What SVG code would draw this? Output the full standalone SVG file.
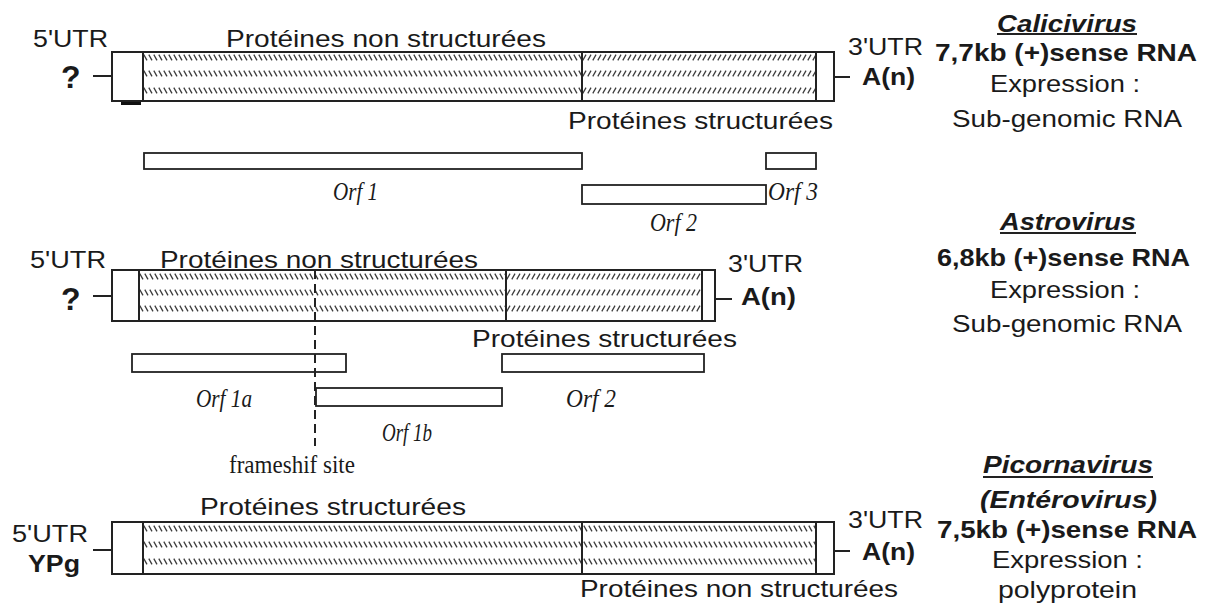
<svg xmlns="http://www.w3.org/2000/svg" width="1206" height="613" viewBox="0 0 1206 613">
<defs>
<pattern id="bs" patternUnits="userSpaceOnUse" width="5" height="7"><line x1="0.8" y1="0.6" x2="4" y2="6.4" stroke="#3a3a3a" stroke-width="1.25"/></pattern>
<pattern id="fs" patternUnits="userSpaceOnUse" width="5" height="7"><line x1="4" y1="0.6" x2="0.8" y2="6.4" stroke="#3a3a3a" stroke-width="1.25"/></pattern>
</defs>
<style>
.t{font-family:"Liberation Sans",Arial,sans-serif;font-size:24px;fill:#1a1a1a}
.b{font-weight:bold}
.bi{font-weight:bold;font-style:italic}
.o{font-family:"Liberation Serif","Times New Roman",serif;font-size:25px;font-style:italic;fill:#1a1a1a}
.s{font-family:"Liberation Serif","Times New Roman",serif;font-size:25px;fill:#1a1a1a}
.box{fill:#fff;stroke:#222;stroke-width:2}
.ln{stroke:#222;stroke-width:2;fill:none}
.orf{fill:#fff;stroke:#222;stroke-width:1.8}
.dash{stroke:#222;stroke-width:2;stroke-dasharray:9 5;fill:none}
</style>
<rect width="1206" height="613" fill="#fff"/>

<g id="calicivirus-genome">
<rect class="box" x="112" y="52" width="722" height="49"/>
<rect transform="translate(143,54)" width="439" height="7" fill="url(#bs)"/>
<rect transform="translate(143,70)" width="439" height="7" fill="url(#bs)"/>
<rect transform="translate(143,87)" width="439" height="7" fill="url(#bs)"/>
<rect transform="translate(582,54)" width="234" height="7" fill="url(#fs)"/>
<rect transform="translate(582,70)" width="234" height="7" fill="url(#fs)"/>
<rect transform="translate(582,87)" width="234" height="7" fill="url(#fs)"/>
<line class="ln" x1="143" y1="52" x2="143" y2="101"/>
<line class="ln" x1="582" y1="52" x2="582" y2="101"/>
<line class="ln" x1="816" y1="52" x2="816" y2="101"/>
<line class="ln" x1="93" y1="76" x2="112" y2="76"/>
<line class="ln" x1="834" y1="77" x2="850" y2="77"/>
<rect x="121" y="102" width="20" height="3" fill="#111"/>
<text class="t" x="33" y="47" textLength="75" lengthAdjust="spacingAndGlyphs">5'UTR</text>
<text class="t" x="226" y="47" textLength="320" lengthAdjust="spacingAndGlyphs">Protéines non structurées</text>
<text class="t b" x="61" y="88" style="font-size:32px">?</text>
<text class="t" x="848" y="55" textLength="75" lengthAdjust="spacingAndGlyphs">3'UTR</text>
<text class="t b" x="862" y="85" textLength="53" lengthAdjust="spacingAndGlyphs">A(n)</text>
<text class="t" x="568" y="129" textLength="265" lengthAdjust="spacingAndGlyphs">Protéines structurées</text>
</g>

<g id="calicivirus-orfs">
<rect class="orf" x="144" y="153" width="438" height="16"/>
<rect class="orf" x="766" y="153" width="50" height="16"/>
<rect class="orf" x="582" y="185" width="184" height="19"/>
<text class="o" x="333" y="200" textLength="45" lengthAdjust="spacingAndGlyphs">Orf 1</text>
<text class="o" x="768" y="200" textLength="50" lengthAdjust="spacingAndGlyphs">Orf 3</text>
<text class="o" x="650" y="231" textLength="47" lengthAdjust="spacingAndGlyphs">Orf 2</text>
</g>

<g id="calicivirus-info">
<text class="t bi" x="997" y="32" textLength="140" lengthAdjust="spacingAndGlyphs">Calicivirus</text>
<line class="ln" x1="997" y1="34" x2="1137" y2="34"/>
<text class="t b" x="935" y="61" textLength="262" lengthAdjust="spacingAndGlyphs">7,7kb (+)sense RNA</text>
<text class="t" x="990" y="92" textLength="150" lengthAdjust="spacingAndGlyphs">Expression :</text>
<text class="t" x="952" y="127" textLength="230" lengthAdjust="spacingAndGlyphs">Sub-genomic RNA</text>
</g>

<g id="astrovirus-genome">
<rect class="box" x="112" y="270" width="603" height="51"/>
<rect transform="translate(139,273)" width="367" height="7" fill="url(#bs)"/>
<rect transform="translate(139,289)" width="367" height="7" fill="url(#bs)"/>
<rect transform="translate(139,305)" width="367" height="7" fill="url(#bs)"/>
<rect transform="translate(506,273)" width="196" height="7" fill="url(#fs)"/>
<rect transform="translate(506,289)" width="196" height="7" fill="url(#fs)"/>
<rect transform="translate(506,305)" width="196" height="7" fill="url(#fs)"/>
<line class="ln" x1="139" y1="270" x2="139" y2="321"/>
<line class="ln" x1="506" y1="270" x2="506" y2="321"/>
<line class="ln" x1="702" y1="270" x2="702" y2="321"/>
<line class="ln" x1="93" y1="296" x2="112" y2="296"/>
<line class="ln" x1="715" y1="299" x2="732" y2="299"/>
<text class="t" x="30" y="268" textLength="76" lengthAdjust="spacingAndGlyphs">5'UTR</text>
<text class="t" x="160" y="268" textLength="318" lengthAdjust="spacingAndGlyphs">Protéines non structurées</text>
<text class="t b" x="61" y="310" style="font-size:32px">?</text>
<text class="t" x="728" y="272" textLength="75" lengthAdjust="spacingAndGlyphs">3'UTR</text>
<text class="t b" x="741" y="305" textLength="55" lengthAdjust="spacingAndGlyphs">A(n)</text>
<text class="t" x="472" y="347" textLength="265" lengthAdjust="spacingAndGlyphs">Protéines structurées</text>
</g>

<g id="astrovirus-orfs">
<rect class="orf" x="132" y="354" width="214" height="18"/>
<rect class="orf" x="502" y="354" width="202" height="18"/>
<rect class="orf" x="316" y="388" width="186" height="18"/>
<text class="o" x="196" y="407" textLength="56" lengthAdjust="spacingAndGlyphs">Orf 1a</text>
<text class="o" x="566" y="407" textLength="50" lengthAdjust="spacingAndGlyphs">Orf 2</text>
<text class="o" x="382" y="441" textLength="50" lengthAdjust="spacingAndGlyphs">Orf 1b</text>
</g>

<g id="frameshift">
<line class="dash" x1="315" y1="270" x2="315" y2="446"/>
<text class="s" x="229" y="473" textLength="126" lengthAdjust="spacingAndGlyphs">frameshif site</text>
</g>

<g id="astrovirus-info">
<text class="t bi" x="1000" y="230" textLength="136" lengthAdjust="spacingAndGlyphs">Astrovirus</text>
<line class="ln" x1="1000" y1="233" x2="1136" y2="233"/>
<text class="t b" x="937" y="266" textLength="253" lengthAdjust="spacingAndGlyphs">6,8kb (+)sense RNA</text>
<text class="t" x="990" y="298" textLength="150" lengthAdjust="spacingAndGlyphs">Expression :</text>
<text class="t" x="952" y="332" textLength="230" lengthAdjust="spacingAndGlyphs">Sub-genomic RNA</text>
</g>

<g id="picornavirus-genome">
<rect class="box" x="112" y="522" width="722" height="52"/>
<rect transform="translate(143,525)" width="673" height="7" fill="url(#bs)"/>
<rect transform="translate(143,541)" width="673" height="7" fill="url(#bs)"/>
<rect transform="translate(143,558)" width="673" height="7" fill="url(#bs)"/>
<line class="ln" x1="143" y1="522" x2="143" y2="574"/>
<line class="ln" x1="582" y1="522" x2="582" y2="574"/>
<line class="ln" x1="816" y1="522" x2="816" y2="574"/>
<line class="ln" x1="93" y1="550" x2="112" y2="550"/>
<line class="ln" x1="834" y1="551" x2="850" y2="551"/>
<text class="t" x="200" y="515" textLength="266" lengthAdjust="spacingAndGlyphs">Protéines structurées</text>
<text class="t" x="12" y="542" textLength="76" lengthAdjust="spacingAndGlyphs">5'UTR</text>
<text class="t b" x="28" y="572" textLength="52" lengthAdjust="spacingAndGlyphs">YPg</text>
<text class="t" x="848" y="528" textLength="75" lengthAdjust="spacingAndGlyphs">3'UTR</text>
<text class="t b" x="862" y="560" textLength="53" lengthAdjust="spacingAndGlyphs">A(n)</text>
<text class="t" x="580" y="597" textLength="318" lengthAdjust="spacingAndGlyphs">Protéines non structurées</text>
</g>

<g id="picornavirus-info">
<text class="t bi" x="983" y="473" textLength="170" lengthAdjust="spacingAndGlyphs">Picornavirus</text>
<line class="ln" x1="983" y1="477" x2="1153" y2="477"/>
<text class="t bi" x="980" y="508" textLength="177" lengthAdjust="spacingAndGlyphs">(Entérovirus)</text>
<text class="t b" x="937" y="538" textLength="260" lengthAdjust="spacingAndGlyphs">7,5kb (+)sense RNA</text>
<text class="t" x="992" y="568" textLength="151" lengthAdjust="spacingAndGlyphs">Expression :</text>
<text class="t" x="998" y="598" textLength="139" lengthAdjust="spacingAndGlyphs">polyprotein</text>
</g>

<g id="connectors"></g>
</svg>
